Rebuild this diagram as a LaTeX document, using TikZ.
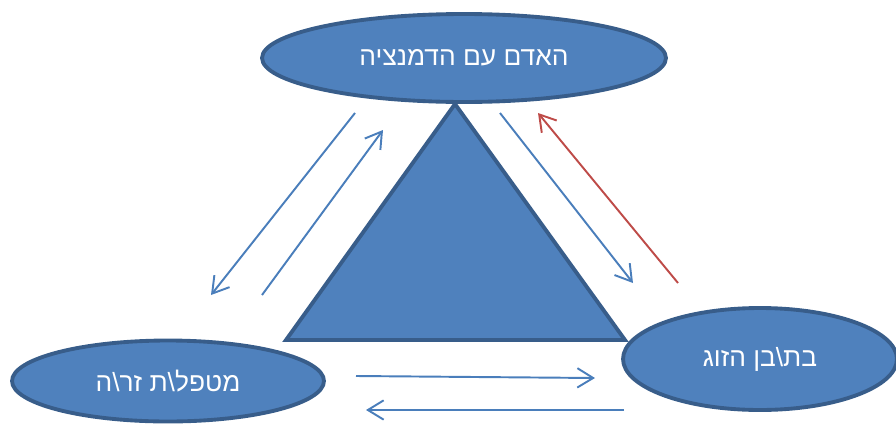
\documentclass[tikz,border=0pt]{standalone}
\usepackage{fontspec}
\usetikzlibrary{arrows.meta,shapes.geometric}
\TeXXeTstate=1
\newfontfamily\hebfont[Script=Hebrew]{Liberation Sans}
\definecolor{fillblue}{HTML}{4F81BD}
\definecolor{edgeblue}{HTML}{385D8A}
\definecolor{arrblue}{HTML}{4A7EBB}
\definecolor{arrred}{HTML}{BE4B48}
\tikzset{
  oval/.style={ellipse, draw=edgeblue, fill=fillblue, line width=2.2pt, inner sep=0pt,
    text=white, font=\hebfont\fontsize{15}{18}\selectfont},
  arr/.style={draw=arrblue, line width=1.1pt, -{Straight Barb[length=9pt,width=11pt,line width=1.1pt]}},
  redarr/.style={arr, draw=arrred}
}
\begin{document}
\begin{tikzpicture}[x=0.02cm,y=-0.02cm]
\useasboundingbox (0,0) rectangle (896,423);
% triangle
\coordinate (apex) at (455,104);
\coordinate (bl) at (286,340);
\coordinate (br) at (625,340);
\draw[draw=edgeblue, fill=fillblue, line width=2.2pt, line join=miter] (apex) -- (bl) -- (br) -- cycle;
% ovals
\node[oval, minimum width=8.08cm, minimum height=1.76cm] (top) at (464,58) {\beginR האדם עם הדמנציה\endR};
\node[oval, minimum width=5.48cm, minimum height=2.04cm] (right) at (760,359) {\beginR בת\textbackslash בן הזוג\endR};
\node[oval, minimum width=6.24cm, minimum height=1.62cm] (left) at (168,381) {\beginR מטפל\textbackslash ת זר\textbackslash ה\endR};
% arrow end points
\coordinate (l1s) at (355,113); \coordinate (l1e) at (211,295);
\coordinate (l2s) at (262,295); \coordinate (l2e) at (383,130);
\coordinate (r1s) at (500,113); \coordinate (r1e) at (633,283);
\coordinate (r2s) at (678,283); \coordinate (r2e) at (538,113);
\coordinate (b1s) at (356,376); \coordinate (b1e) at (595,378);
\coordinate (b2s) at (624,410); \coordinate (b2e) at (366,410);
\draw[arr] (l1s) -- (l1e);
\draw[arr] (l2s) -- (l2e);
\draw[arr] (r1s) -- (r1e);
\draw[redarr] (r2s) -- (r2e);
\draw[arr] (b1s) -- (b1e);
\draw[arr] (b2s) -- (b2e);
\end{tikzpicture}
\end{document}
